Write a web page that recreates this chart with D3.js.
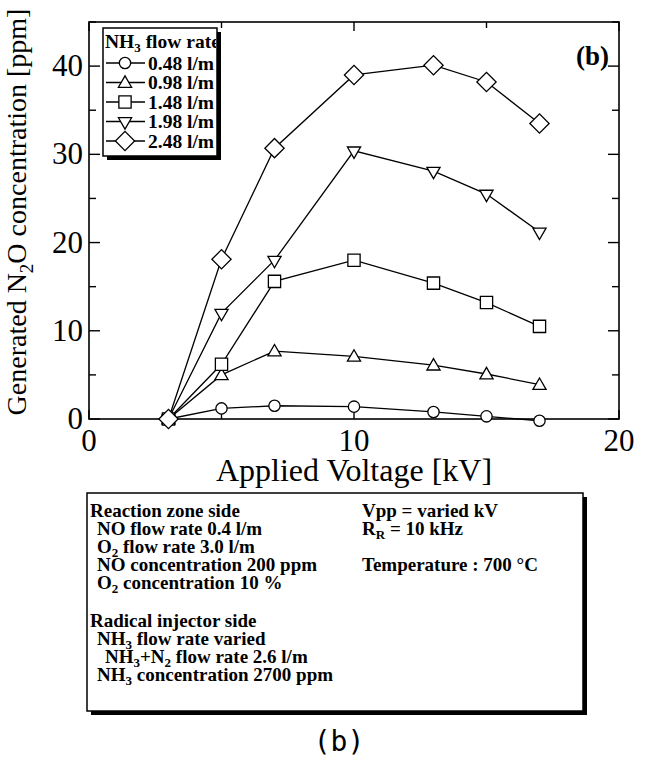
<!DOCTYPE html>
<html><head><meta charset="utf-8">
<script src="https://cdn.jsdelivr.net/npm/d3@7"></script>
<style>body{margin:0;background:#fff}svg{display:block}</style>
</head><body>
<svg id="c" width="646" height="766"></svg>
<script>
const voltages = [3, 5, 7, 10, 13, 15, 17];
const flowLabels = ["0.48 l/m", "0.98 l/m", "1.48 l/m", "1.98 l/m", "2.48 l/m"];
const s048 = [0, 1.2, 1.5, 1.4, 0.8, 0.3, -0.2];
const s098 = [0, 5.0, 7.7, 7.1, 6.1, 5.1, 3.9];
const s148 = [0, 6.2, 15.6, 18.0, 15.4, 13.2, 10.5];
const s198 = [0, 12.0, 18.0, 30.4, 28.1, 25.5, 21.2];
const s248 = [0, 18.1, 30.7, 39.0, 40.1, 38.2, 33.5];
const markerTypes = ["circle", "triangle", "square", "triangleDown", "diamond"];
const xTickLabels = [0, 10, 20];
const yTickLabels = [0, 10, 20, 30, 40];

const series = [s048, s098, s148, s198, s248].map((v, i) => ({
  label: flowLabels[i], marker: markerTypes[i],
  points: v.map((y, j) => ({x: voltages[j], y}))
}));

const svg = d3.select("#c");
const L = 89, R = 619, T = 22, B = 419;
const x = d3.scaleLinear().domain([0, 20]).range([L, R]);
const y = d3.scaleLinear().domain([0, 45]).range([B, T]);
const serif = "'Liberation Serif','Times New Roman',serif";

function markerPath(type) {
  const s = {
    circle: d3.symbol(d3.symbolCircle, 100),
    square: d3.symbol(d3.symbolSquare, 150),
    triangle: d3.symbol(d3.symbolTriangle, 75),
    triangleDown: d3.symbol(d3.symbolTriangle, 75),
    diamond: d3.symbol(d3.symbolSquare, 185)
  }[type];
  return s();
}
function markerTransform(type) {
  if (type === "triangleDown") return " rotate(180)";
  if (type === "diamond") return " rotate(45)";
  if (type === "triangle") return " translate(0,1)";
  return "";
}

// frame
svg.append("rect").attr("x", L).attr("y", T).attr("width", R - L).attr("height", B - T)
  .attr("fill", "none").attr("stroke", "#000").attr("stroke-width", 1.6);

// ticks (inward, mirrored)
const g = svg.append("g").attr("stroke", "#000").attr("stroke-width", 1.4);
[0, 5, 10, 15, 20].forEach(v => {
  const len = v % 10 === 0 ? 9 : 6;
  g.append("line").attr("x1", x(v)).attr("x2", x(v)).attr("y1", B).attr("y2", B - len);
  g.append("line").attr("x1", x(v)).attr("x2", x(v)).attr("y1", T).attr("y2", T + len);
});
d3.range(0, 46, 5).forEach(v => {
  const len = v % 10 === 0 ? 11 : 7;
  g.append("line").attr("y1", y(v)).attr("y2", y(v)).attr("x1", L).attr("x2", L + len);
  g.append("line").attr("y1", y(v)).attr("y2", y(v)).attr("x1", R).attr("x2", R - len);
});

// tick labels
svg.selectAll(".xt").data(xTickLabels).enter().append("text")
  .attr("x", d => x(d)).attr("y", B + 32).attr("text-anchor", "middle")
  .attr("font-family", serif).attr("font-size", 31).text(d => d);
svg.selectAll(".yt").data(yTickLabels).enter().append("text")
  .attr("x", L - 6).attr("y", d => y(d) + 10).attr("text-anchor", "end")
  .attr("font-family", serif).attr("font-size", 31).text(d => d);

// axis titles
svg.append("text").attr("x", x(10)).attr("y", B + 62).attr("text-anchor", "middle")
  .attr("font-family", serif).attr("font-size", 32).text("Applied Voltage [kV]");
const yt = svg.append("text").attr("transform", `translate(26,212) rotate(-90)`)
  .attr("text-anchor", "middle").attr("font-family", serif).attr("font-size", 28);
yt.append("tspan").text("Generated N");
yt.append("tspan").attr("dy", 7).attr("font-size", 19).text("2");
yt.append("tspan").attr("dy", -7).text("O concentration [ppm]");

// (b) label
svg.append("text").attr("x", 609).attr("y", 65).attr("text-anchor", "end")
  .attr("font-family", serif).attr("font-weight", "bold").attr("font-size", 27).text("(b)");

// series
const line = d3.line().x(d => x(d.x)).y(d => y(d.y));
series.forEach(s => {
  svg.append("path").attr("d", line(s.points)).attr("fill", "none")
    .attr("stroke", "#000").attr("stroke-width", 1.3);
});
series.forEach(s => {
  svg.selectAll(null).data(s.points).enter().append("path")
    .attr("d", markerPath(s.marker))
    .attr("transform", d => `translate(${x(d.x)},${y(d.y)})` + markerTransform(s.marker))
    .attr("fill", "#fff").attr("stroke", "#000").attr("stroke-width", 1.3);
});

// legend
const lg = {x: 103, y: 28, w: 114, h: 128};
svg.append("rect").attr("x", lg.x + 4).attr("y", lg.y + 4).attr("width", lg.w).attr("height", lg.h).attr("fill", "#000");
svg.append("rect").attr("x", lg.x).attr("y", lg.y).attr("width", lg.w).attr("height", lg.h)
  .attr("fill", "#fff").attr("stroke", "#000").attr("stroke-width", 1.5);
svg.append("clipPath").attr("id", "lgclip").append("rect")
  .attr("x", lg.x).attr("y", lg.y).attr("width", lg.w - 1).attr("height", lg.h);
const lt = svg.append("text").attr("clip-path", "url(#lgclip)").attr("x", lg.x + 2).attr("y", lg.y + 20)
  .attr("font-family", serif).attr("font-weight", "bold").attr("font-size", 19.5);
lt.append("tspan").text("NH");
lt.append("tspan").attr("dy", 4).attr("font-size", 13).text("3");
lt.append("tspan").attr("dy", -4).text(" flow rate");
series.forEach((s, i) => {
  const cy = lg.y + 35 + i * 19.5;
  svg.append("line").attr("x1", lg.x + 3).attr("x2", lg.x + 42).attr("y1", cy).attr("y2", cy)
    .attr("stroke", "#000").attr("stroke-width", 1.3);
  svg.append("path").attr("d", markerPath(s.marker))
    .attr("transform", `translate(${lg.x + 22},${cy})` + markerTransform(s.marker))
    .attr("fill", "#fff").attr("stroke", "#000").attr("stroke-width", 1.3);
  svg.append("text").attr("x", lg.x + 45).attr("y", cy + 6.5).attr("clip-path", "url(#lgclip)")
    .attr("font-family", serif).attr("font-weight", "bold").attr("font-size", 19.5).text(s.label);
});

// info box
const ib = {x: 87, y: 493, w: 496, h: 218};
svg.append("rect").attr("x", ib.x + 4).attr("y", ib.y + 4).attr("width", ib.w).attr("height", ib.h).attr("fill", "#000");
svg.append("rect").attr("x", ib.x).attr("y", ib.y).attr("width", ib.w).attr("height", ib.h)
  .attr("fill", "#fff").attr("stroke", "#000").attr("stroke-width", 1.5);

const infoLines = [
  {y: 517, x: 90, parts: [["Reaction zone side"]]},
  {y: 535, x: 97, parts: [["NO flow rate 0.4 l/m"]]},
  {y: 553, x: 97, parts: [["O"], ["2", 1], [" flow rate 3.0 l/m"]]},
  {y: 571, x: 97, parts: [["NO concentration 200 ppm"]]},
  {y: 589, x: 97, parts: [["O"], ["2", 1], [" concentration 10 %"]]},
  {y: 627, x: 90, parts: [["Radical injector side"]]},
  {y: 645, x: 97, parts: [["NH"], ["3", 1], [" flow rate varied"]]},
  {y: 663, x: 105, parts: [["NH"], ["3", 1], ["+N"], ["2", 1], [" flow rate 2.6 l/m"]]},
  {y: 681, x: 97, parts: [["NH"], ["3", 1], [" concentration 2700 ppm"]]},
  {y: 517, x: 362, parts: [["Vpp = varied kV"]]},
  {y: 535, x: 362, parts: [["R"], ["R", 1], [" = 10 kHz"]]},
  {y: 571, x: 362, parts: [["Temperature : 700 °C"]]}
];
infoLines.forEach(l => {
  const t = svg.append("text").attr("x", l.x).attr("y", l.y)
    .attr("font-family", serif).attr("font-weight", "bold").attr("font-size", 19);
  let down = false;
  l.parts.forEach(p => {
    const ts = t.append("tspan").text(p[0]);
    if (p[1] && !down) { ts.attr("dy", 4).attr("font-size", 13); down = true; }
    else if (!p[1] && down) { ts.attr("dy", -4); down = false; }
  });
});

// caption
svg.append("text").attr("x", 339).attr("y", 751).attr("text-anchor", "middle")
  .attr("font-family", "'DejaVu Sans Mono',monospace").attr("font-size", 28).text("(b)");
</script>
</body></html>
